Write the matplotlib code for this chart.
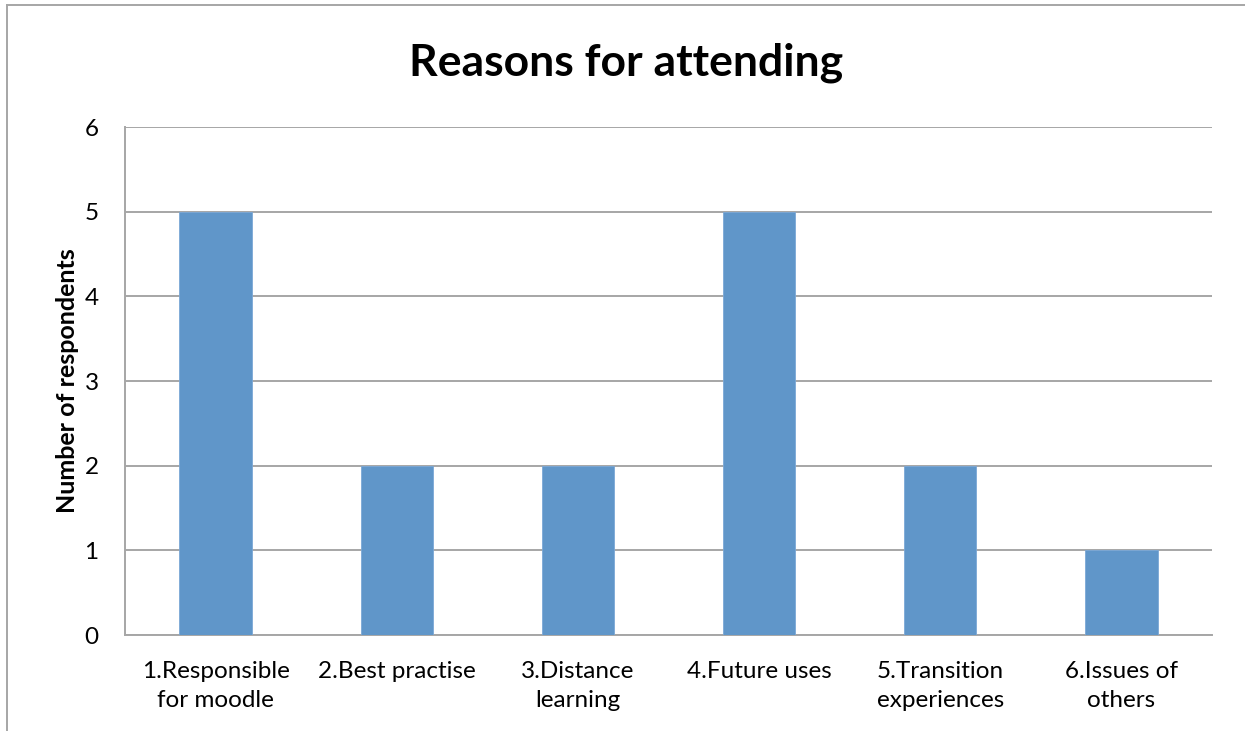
import matplotlib
matplotlib.use("Agg")
import matplotlib.pyplot as plt
from matplotlib.lines import Line2D

categories = ["1.Responsible\nfor moodle", "2.Best practise", "3.Distance\nlearning",
              "4.Future uses", "5.Transition\nexperiences", "6.Issues of\nothers"]
respondents = [5, 2, 2, 5, 2, 1]
y_ticks = [0, 1, 2, 3, 4, 5, 6]

plt.rcParams['font.family'] = ['Lato', 'DejaVu Sans']

W, H = 1245, 731
fig = plt.figure(figsize=(W / 100, H / 100), dpi=100)
ax = fig.add_axes([125 / W, 1 - 635 / H, (1212 - 125) / W, (635 - 127) / H])

grid_c = '#A6A6A6'
x = range(len(categories))
ax.bar(x, respondents, width=0.4, color='#6096C9', edgecolor='#7BA8D6', linewidth=0.6, zorder=3)

ax.set_xlim(-0.5, len(categories) - 0.5)
ax.set_ylim(0, 6)
ax.set_yticks(y_ticks)
ax.set_yticklabels([str(v) for v in y_ticks], fontsize=17.5)
ax.set_xticks(list(x))
ax.set_xticklabels(categories, fontsize=17.5, linespacing=1.45)
ax.tick_params(axis='both', length=0)
ax.tick_params(axis='y', pad=19)
ax.tick_params(axis='x', pad=19)
ax.yaxis.grid(True, color=grid_c, linewidth=1.4, zorder=0)
ax.set_axisbelow(True)
for s in ['top', 'right']:
    ax.spines[s].set_visible(False)
for s in ['left', 'bottom']:
    ax.spines[s].set_color(grid_c)
    ax.spines[s].set_linewidth(1.4)

ax.set_ylabel("Number of respondents", fontsize=18, fontweight='bold', labelpad=4)
fig.text(0.5025, 1 - 63 / H, "Reasons for attending", fontsize=32, fontweight='bold',
         ha='center', va='center')

# outer chart frame (left and top edges)
fig.add_artist(Line2D([6.5 / W, 6.5 / W], [0, 1 - 5 / H], transform=fig.transFigure,
                      color=grid_c, linewidth=1.4))
fig.add_artist(Line2D([6.5 / W, 1], [1 - 5 / H, 1 - 5 / H], transform=fig.transFigure,
                      color=grid_c, linewidth=1.4))

fig.savefig("out.png", dpi=100, facecolor='white')
